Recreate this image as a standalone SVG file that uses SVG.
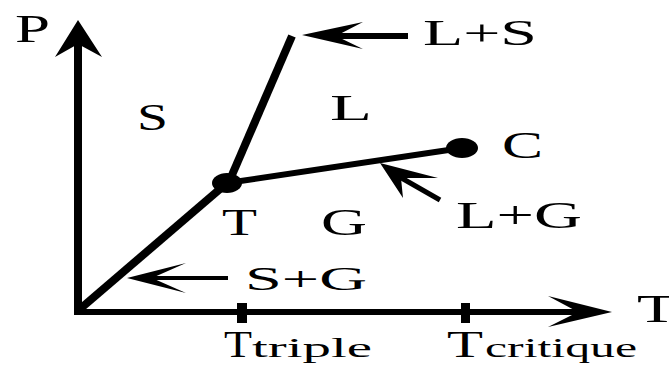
<svg xmlns="http://www.w3.org/2000/svg" width="669" height="365" viewBox="0 0 669 365">
<style>
  text { font-family: "Liberation Serif", "Times New Roman", serif; fill: #000; }
  .ln { stroke: #000; fill: none; stroke-linecap: butt; }
  .hd { fill: #000; stroke: none; }
</style>
<rect width="669" height="365" fill="#fff"/>
<g id="axes">
  <line class="ln" x1="78" y1="40" x2="78" y2="315" stroke-width="8"/>
  <polygon class="hd" points="78,20 102,57 78,44 55,57"/>
  <line class="ln" x1="74" y1="312" x2="585" y2="312" stroke-width="6"/>
  <polygon class="hd" points="612,312 548,296 578,312 548,327"/>
  <rect x="237" y="303" width="10" height="20" fill="#000"/>
  <rect x="461" y="303" width="9" height="20" fill="#000"/>
</g>
<g id="connectors">
  <line class="ln" x1="80" y1="309" x2="227" y2="183" stroke-width="8"/>
  <line class="ln" x1="229" y1="182" x2="292" y2="36" stroke-width="8"/>
  <line class="ln" x1="227" y1="183" x2="462" y2="148" stroke-width="6"/>
  <line class="ln" x1="335" y1="36" x2="408" y2="36" stroke-width="6"/>
  <polygon class="hd" points="302,35 363,22 336,36 363,49"/>
  <line class="ln" x1="150" y1="278" x2="228" y2="278" stroke-width="4"/>
  <polygon class="hd" points="127,278 186,263 152,278 186,293"/>
  <line class="ln" x1="398" y1="176" x2="440" y2="200" stroke-width="5"/>
  <polygon class="hd" points="380,163 438,178 401,178 403,198"/>
</g>
<g id="node-triple">
  <ellipse cx="227" cy="183" rx="15" ry="10" fill="#000"/>
  <text x="222" y="235" font-size="38" textLength="35" lengthAdjust="spacingAndGlyphs">T</text>
</g>
<g id="node-critical">
  <ellipse cx="462" cy="148" rx="16" ry="10" fill="#000"/>
  <text x="502" y="158" font-size="37" textLength="41" lengthAdjust="spacingAndGlyphs">C</text>
</g>
<g id="label-P"><text x="15" y="42" font-size="40" textLength="35" lengthAdjust="spacingAndGlyphs">P</text></g>
<g id="label-Taxis"><text x="637" y="322" font-size="40" textLength="40" lengthAdjust="spacingAndGlyphs">T</text></g>
<g id="region-S"><text x="137" y="130" font-size="38" textLength="31" lengthAdjust="spacingAndGlyphs">S</text></g>
<g id="region-L"><text x="330" y="120" font-size="35" textLength="42" lengthAdjust="spacingAndGlyphs">L</text></g>
<g id="region-G"><text x="321" y="235" font-size="37" textLength="46" lengthAdjust="spacingAndGlyphs">G</text></g>
<g id="label-LS"><text x="423" y="45" font-size="35" textLength="114" lengthAdjust="spacingAndGlyphs">L+S</text></g>
<g id="label-LG"><text x="456" y="228" font-size="38" textLength="126" lengthAdjust="spacingAndGlyphs">L+G</text></g>
<g id="label-SG"><text x="245" y="290" font-size="34" textLength="122" lengthAdjust="spacingAndGlyphs">S+G</text></g>
<g id="label-Ttriple">
  <text x="224" y="357" font-size="38" textLength="28" lengthAdjust="spacingAndGlyphs">T</text>
  <text x="252" y="357" font-size="28" textLength="120" lengthAdjust="spacingAndGlyphs">triple</text>
</g>
<g id="label-Tcritique">
  <text x="447" y="357" font-size="38" textLength="36" lengthAdjust="spacingAndGlyphs">T</text>
  <text x="485" y="357" font-size="28" textLength="152" lengthAdjust="spacingAndGlyphs">critique</text>
</g>
</svg>
